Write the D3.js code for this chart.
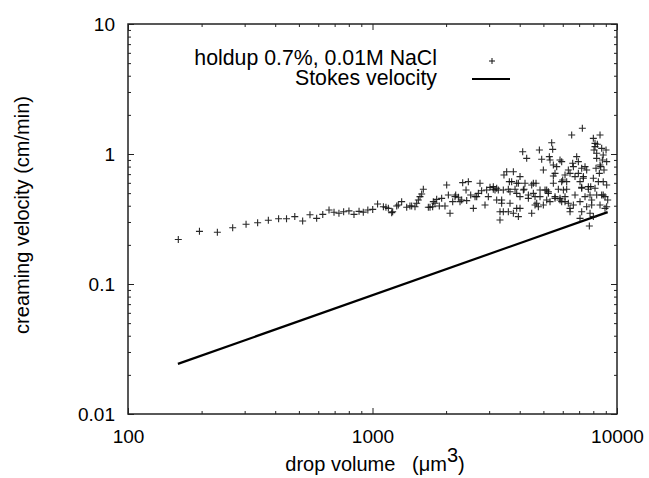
<!DOCTYPE html>
<html><head><meta charset="utf-8">
<script src="https://cdn.jsdelivr.net/npm/d3@7"></script>
<style>
html,body{margin:0;padding:0;background:#fff;}
text{font-family:"Liberation Sans",Arial,Helvetica,sans-serif;fill:#000;}
</style></head>
<body><svg id="c" width="649" height="478"></svg>
<script>
// ---- data ----
const dropVolume = [
160.6,196,232,268,304,339,375,413,445,481,518,555,591,626,664,696,729,762,801,840,881,917,957,1002,1049,
1108,1161,1209,1256,1316,1380,1446,1492,1540,1614,1564,1692,1762,1801,1876,1918,1979,2011,2075,2043,2128,2175,2245,2316,2338,2413,2466,2521,2585,2668,2752,2795,2885,2930,3024,3120,3220,3322,3375,3449,3538,3594,3651,3708,3768,3828,3888,3950,4012,4114,4167,4272,4340,4478,4549,4621,4694,4814,4920,4998,5077,5157,5239,5322,5406,5457,5491,5578,5667,5756,5847,5939,5996,6129,6226,6324,6425,6526,6589,6734,6841,6949,7059,7171,7216,7284,7399,7516,7635,7707,7806,7878,8003,8054,8130,8259,8389,8522,8575,8656,8713,8848,8932,9019,9074,9161,
5288,5491,5847,5578,4012,3629,3888,4205,4478,4664,4844,5157,5491,5939,6036,3428,3651,3888,4140,4340,4549,4844,5239,5578,5847,3428,3594,3768,4012,4621,4768,4998,5322,3322,3950,
8130,8311,8656,8259,8784,9074,8522,8207,8469,8784,9074,6949,6630,7171,7399,7516,6425,6129,7284,8003,6226,7059,7635,8130,7171,6734,7757,8259,8784,6129,6324,6630,7059,7878,8522,8932,6425,7171,7757,8003,5939,
1135,1198,1275,1423,1516,1589,1719,1773,1830,2189,2280,2428,2626,2710,2977,3170,3220,3270,3375,3120
];
const creamingVelocity = [
0.22,0.254,0.25,0.271,0.288,0.296,0.309,0.318,0.318,0.33,0.305,0.341,0.32,0.343,0.371,0.356,0.35,0.36,0.365,0.343,0.362,0.357,0.371,0.375,0.412,
0.393,0.382,0.360,0.398,0.430,0.389,0.398,0.393,0.443,0.535,0.470,0.389,0.393,0.418,0.398,0.456,0.398,0.578,0.350,0.484,0.430,0.470,0.465,0.443,0.602,0.529,0.613,0.484,0.382,0.470,0.595,0.522,0.405,0.529,0.554,0.535,0.545,0.360,0.443,0.690,0.731,0.535,0.418,0.613,0.731,0.535,0.382,0.595,0.470,1.042,0.535,0.926,0.456,0.350,0.595,0.470,0.418,1.074,0.910,0.753,0.529,0.443,0.513,0.899,1.222,1.086,0.677,0.470,0.799,0.535,0.456,0.873,0.631,0.430,0.535,0.753,0.382,1.400,0.848,0.670,0.954,0.710,0.320,0.554,1.576,0.650,0.470,0.393,0.535,0.279,0.561,0.443,1.320,1.074,1.208,0.926,0.613,1.400,0.799,0.484,0.899,0.753,0.470,1.074,0.393,0.443,
0.954,0.823,0.899,0.710,0.670,0.613,0.595,0.595,0.578,0.595,0.529,0.529,0.595,0.613,0.529,0.529,0.513,0.498,0.529,0.484,0.498,0.470,0.498,0.456,0.443,0.360,0.360,0.350,0.382,0.405,0.393,0.405,0.430,0.311,0.330,
1.139,1.187,1.105,1.013,0.983,0.873,0.823,0.776,0.710,0.613,0.578,0.873,0.799,0.776,0.799,0.753,0.710,0.690,0.670,0.650,0.613,0.613,0.561,0.545,0.545,0.484,0.484,0.484,0.484,0.470,0.418,0.405,0.430,0.405,0.405,0.382,0.360,0.360,0.350,0.330,0.430,
0.389,0.354,0.405,0.398,0.418,0.492,0.389,0.430,0.448,0.484,0.430,0.438,0.470,0.498,0.470,0.529,0.443,0.529,0.418,0.561
];
const stokesVolume = [160, 9160];
const stokesVelocity = [0.0243, 0.357];
const xMajorTicks = [100, 1000, 10000];
const xTickLabels = ["100", "1000", "10000"];
const yMajorTicks = [0.01, 0.1, 1, 10];
const yTickLabels = ["0.01", "0.1", "1", "10"];
const seriesLabels = ["holdup 0.7%, 0.01M NaCl", "Stokes velocity"];

// ---- layout ----
const L = 128, R = 617, T = 24, B = 414;
const svg = d3.select("#c");
const x = d3.scaleLog().domain([100, 10000]).range([L, R]);
const y = d3.scaleLog().domain([0.01, 10]).range([B, T]);

function minors(lo, hi) {
  const out = [];
  for (let d = lo; d < hi; d *= 10) for (let k = 2; k <= 9; k++) out.push(d * k);
  return out;
}
const xMinor = minors(100, 10000), yMinor = minors(0.01, 10);

function styleAxis(g) {
  g.select(".domain").remove();
  g.selectAll(".tick line").attr("stroke", "#222").attr("stroke-width", 1);
  g.selectAll("text").attr("font-size", 19).attr("fill", "#000")
   .style("font-family", '"Liberation Sans",Arial,sans-serif');
}
const fmtX = d => xTickLabels[xMajorTicks.indexOf(d)];
const fmtY = d => yTickLabels[yMajorTicks.indexOf(d)];

// bottom
svg.append("g").attr("transform", `translate(0,${B})`)
  .call(d3.axisBottom(x).tickValues(xMajorTicks).tickFormat(fmtX).tickSize(-6).tickPadding(16)).call(styleAxis);
svg.append("g").attr("transform", `translate(0,${B})`)
  .call(d3.axisBottom(x).tickValues(xMinor).tickFormat("").tickSize(-3)).call(styleAxis);
// top
svg.append("g").attr("transform", `translate(0,${T})`)
  .call(d3.axisTop(x).tickValues(xMajorTicks).tickFormat("").tickSize(-6)).call(styleAxis);
svg.append("g").attr("transform", `translate(0,${T})`)
  .call(d3.axisTop(x).tickValues(xMinor).tickFormat("").tickSize(-3)).call(styleAxis);
// left
svg.append("g").attr("transform", `translate(${L},0)`)
  .call(d3.axisLeft(y).tickValues(yMajorTicks).tickFormat(fmtY).tickSize(-6).tickPadding(13)).call(styleAxis);
svg.append("g").attr("transform", `translate(${L},0)`)
  .call(d3.axisLeft(y).tickValues(yMinor).tickFormat("").tickSize(-3)).call(styleAxis);
// right
svg.append("g").attr("transform", `translate(${R},0)`)
  .call(d3.axisRight(y).tickValues(yMajorTicks).tickFormat("").tickSize(-6)).call(styleAxis);
svg.append("g").attr("transform", `translate(${R},0)`)
  .call(d3.axisRight(y).tickValues(yMinor).tickFormat("").tickSize(-3)).call(styleAxis);

// frame
svg.append("rect").attr("x", L).attr("y", T).attr("width", R - L).attr("height", B - T)
  .attr("fill", "none").attr("stroke", "#222").attr("stroke-width", 1.5);

// axis labels
svg.append("text").attr("x", 375).attr("y", 471).attr("text-anchor", "middle")
  .attr("font-size", 20).style("white-space", "pre")
  .call(t => {
    t.append("tspan").text("drop volume   (\u03bcm");
    t.append("tspan").attr("dy", -9).text("3");
    t.append("tspan").attr("dy", 9).text(")");
  });
svg.append("text").attr("transform", "translate(29,215) rotate(-90)").attr("text-anchor", "middle")
  .attr("font-size", 20).text("creaming velocity (cm/min)");

// stokes line
const lineData = stokesVolume.map((v, i) => [v, stokesVelocity[i]]);
svg.append("path").datum(lineData)
  .attr("d", d3.line().x(d => x(d[0])).y(d => y(d[1])))
  .attr("fill", "none").attr("stroke", "#000").attr("stroke-width", 2.2);

// scatter
const plus = "M-3.5,0H3.5M0,-3.5V3.5";
svg.append("g").selectAll("path").data(dropVolume.map((v, i) => [v, creamingVelocity[i]]))
  .join("path")
  .attr("transform", d => `translate(${x(d[0])},${y(d[1])})`)
  .attr("d", plus).attr("stroke", "#111").attr("stroke-width", 1.1).attr("fill", "none").attr("opacity", 0.9);

// legend
const lg = svg.append("g");
lg.append("text").attr("x", 437).attr("y", 65).attr("text-anchor", "end").attr("font-size", 21.3).text(seriesLabels[0]);
lg.append("text").attr("x", 437).attr("y", 85).attr("text-anchor", "end").attr("font-size", 21.3).text(seriesLabels[1]);
lg.append("path").attr("transform", "translate(492,61)").attr("d", "M-3,0H3M0,-3V3").attr("stroke", "#111").attr("fill", "none");
lg.append("line").attr("x1", 472).attr("x2", 510).attr("y1", 79).attr("y2", 79).attr("stroke", "#000").attr("stroke-width", 2.2);
</script></body></html>
